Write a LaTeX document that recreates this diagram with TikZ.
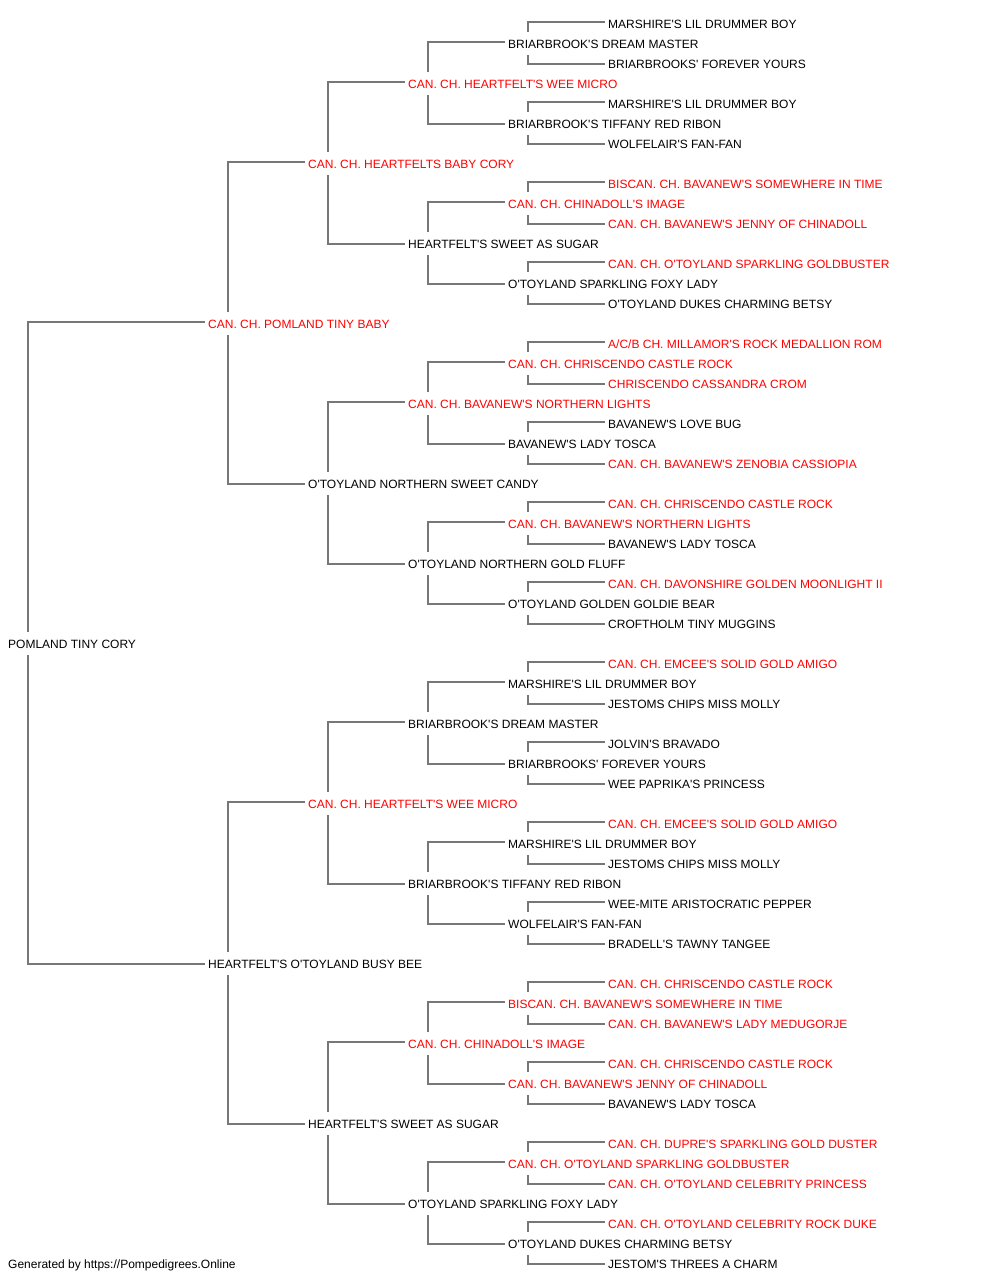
\documentclass[tikz,border=0pt]{standalone}
\usepackage{fontspec}
\setmainfont{Liberation Sans}[Ligatures=TeXOff]
\definecolor{linegray}{RGB}{119,119,119}
\definecolor{namered}{RGB}{255,0,0}
\begin{document}
\begin{tikzpicture}[x=1pt,y=1pt,
  dog/.style={anchor=west, inner xsep=3pt, inner ysep=0pt, minimum height=22pt,
    text height=9pt, text depth=0pt, font=\fontsize{12pt}{14pt}\selectfont, text=black},
  champ/.style={dog, text=namered},
  conn/.style={draw=linegray, line width=1.5pt}]
\useasboundingbox (0,0) rectangle (1000,-1280);
% root
\node[dog] (n31) at (5,-23.5-20*31) {POMLAND TINY CORY};
% level 1
\node[champ] (n15) at (205,-23.5-20*15) {CAN. CH. POMLAND TINY BABY};
\node[dog] (n47) at (205,-23.5-20*47) {HEARTFELT'S O'TOYLAND BUSY BEE};
% level 2
\node[champ] (n7) at (305,-23.5-20*7) {CAN. CH. HEARTFELTS BABY CORY};
\node[dog] (n23) at (305,-23.5-20*23) {O'TOYLAND NORTHERN SWEET CANDY};
\node[champ] (n39) at (305,-23.5-20*39) {CAN. CH. HEARTFELT'S WEE MICRO};
\node[dog] (n55) at (305,-23.5-20*55) {HEARTFELT'S SWEET AS SUGAR};
% level 3
\node[champ] (n3) at (405,-23.5-20*3) {CAN. CH. HEARTFELT'S WEE MICRO};
\node[dog] (n11) at (405,-23.5-20*11) {HEARTFELT'S SWEET AS SUGAR};
\node[champ] (n19) at (405,-23.5-20*19) {CAN. CH. BAVANEW'S NORTHERN LIGHTS};
\node[dog] (n27) at (405,-23.5-20*27) {O'TOYLAND NORTHERN GOLD FLUFF};
\node[dog] (n35) at (405,-23.5-20*35) {BRIARBROOK'S DREAM MASTER};
\node[dog] (n43) at (405,-23.5-20*43) {BRIARBROOK'S TIFFANY RED RIBON};
\node[champ] (n51) at (405,-23.5-20*51) {CAN. CH. CHINADOLL'S IMAGE};
\node[dog] (n59) at (405,-23.5-20*59) {O'TOYLAND SPARKLING FOXY LADY};
% level 4
\node[dog] (n1) at (505,-23.5-20*1) {BRIARBROOK'S DREAM MASTER};
\node[dog] (n5) at (505,-23.5-20*5) {BRIARBROOK'S TIFFANY RED RIBON};
\node[champ] (n9) at (505,-23.5-20*9) {CAN. CH. CHINADOLL'S IMAGE};
\node[dog] (n13) at (505,-23.5-20*13) {O'TOYLAND SPARKLING FOXY LADY};
\node[champ] (n17) at (505,-23.5-20*17) {CAN. CH. CHRISCENDO CASTLE ROCK};
\node[dog] (n21) at (505,-23.5-20*21) {BAVANEW'S LADY TOSCA};
\node[champ] (n25) at (505,-23.5-20*25) {CAN. CH. BAVANEW'S NORTHERN LIGHTS};
\node[dog] (n29) at (505,-23.5-20*29) {O'TOYLAND GOLDEN GOLDIE BEAR};
\node[dog] (n33) at (505,-23.5-20*33) {MARSHIRE'S LIL DRUMMER BOY};
\node[dog] (n37) at (505,-23.5-20*37) {BRIARBROOKS' FOREVER YOURS};
\node[dog] (n41) at (505,-23.5-20*41) {MARSHIRE'S LIL DRUMMER BOY};
\node[dog] (n45) at (505,-23.5-20*45) {WOLFELAIR'S FAN-FAN};
\node[champ] (n49) at (505,-23.5-20*49) {BISCAN. CH. BAVANEW'S SOMEWHERE IN TIME};
\node[champ] (n53) at (505,-23.5-20*53) {CAN. CH. BAVANEW'S JENNY OF CHINADOLL};
\node[champ] (n57) at (505,-23.5-20*57) {CAN. CH. O'TOYLAND SPARKLING GOLDBUSTER};
\node[dog] (n61) at (505,-23.5-20*61) {O'TOYLAND DUKES CHARMING BETSY};
% level 5
\node[dog] (n0) at (605,-23.5-20*0) {MARSHIRE'S LIL DRUMMER BOY};
\node[dog] (n2) at (605,-23.5-20*2) {BRIARBROOKS' FOREVER YOURS};
\node[dog] (n4) at (605,-23.5-20*4) {MARSHIRE'S LIL DRUMMER BOY};
\node[dog] (n6) at (605,-23.5-20*6) {WOLFELAIR'S FAN-FAN};
\node[champ] (n8) at (605,-23.5-20*8) {BISCAN. CH. BAVANEW'S SOMEWHERE IN TIME};
\node[champ] (n10) at (605,-23.5-20*10) {CAN. CH. BAVANEW'S JENNY OF CHINADOLL};
\node[champ] (n12) at (605,-23.5-20*12) {CAN. CH. O'TOYLAND SPARKLING GOLDBUSTER};
\node[dog] (n14) at (605,-23.5-20*14) {O'TOYLAND DUKES CHARMING BETSY};
\node[champ] (n16) at (605,-23.5-20*16) {A/C/B CH. MILLAMOR'S ROCK MEDALLION ROM};
\node[champ] (n18) at (605,-23.5-20*18) {CHRISCENDO CASSANDRA CROM};
\node[dog] (n20) at (605,-23.5-20*20) {BAVANEW'S LOVE BUG};
\node[champ] (n22) at (605,-23.5-20*22) {CAN. CH. BAVANEW'S ZENOBIA CASSIOPIA};
\node[champ] (n24) at (605,-23.5-20*24) {CAN. CH. CHRISCENDO CASTLE ROCK};
\node[dog] (n26) at (605,-23.5-20*26) {BAVANEW'S LADY TOSCA};
\node[champ] (n28) at (605,-23.5-20*28) {CAN. CH. DAVONSHIRE GOLDEN MOONLIGHT II};
\node[dog] (n30) at (605,-23.5-20*30) {CROFTHOLM TINY MUGGINS};
\node[champ] (n32) at (605,-23.5-20*32) {CAN. CH. EMCEE'S SOLID GOLD AMIGO};
\node[dog] (n34) at (605,-23.5-20*34) {JESTOMS CHIPS MISS MOLLY};
\node[dog] (n36) at (605,-23.5-20*36) {JOLVIN'S BRAVADO};
\node[dog] (n38) at (605,-23.5-20*38) {WEE PAPRIKA'S PRINCESS};
\node[champ] (n40) at (605,-23.5-20*40) {CAN. CH. EMCEE'S SOLID GOLD AMIGO};
\node[dog] (n42) at (605,-23.5-20*42) {JESTOMS CHIPS MISS MOLLY};
\node[dog] (n44) at (605,-23.5-20*44) {WEE-MITE ARISTOCRATIC PEPPER};
\node[dog] (n46) at (605,-23.5-20*46) {BRADELL'S TAWNY TANGEE};
\node[champ] (n48) at (605,-23.5-20*48) {CAN. CH. CHRISCENDO CASTLE ROCK};
\node[champ] (n50) at (605,-23.5-20*50) {CAN. CH. BAVANEW'S LADY MEDUGORJE};
\node[champ] (n52) at (605,-23.5-20*52) {CAN. CH. CHRISCENDO CASTLE ROCK};
\node[dog] (n54) at (605,-23.5-20*54) {BAVANEW'S LADY TOSCA};
\node[champ] (n56) at (605,-23.5-20*56) {CAN. CH. DUPRE'S SPARKLING GOLD DUSTER};
\node[champ] (n58) at (605,-23.5-20*58) {CAN. CH. O'TOYLAND CELEBRITY PRINCESS};
\node[champ] (n60) at (605,-23.5-20*60) {CAN. CH. O'TOYLAND CELEBRITY ROCK DUKE};
\node[dog] (n62) at (605,-23.5-20*62) {JESTOM'S THREES A CHARM};
% footer
\node[dog] (gen) at (5,-23.5-20*62) {Generated by https://Pompedigrees.Online};
% connectors
\foreach \p/\d in {31/16,15/8,47/8,7/4,23/4,39/4,55/4,3/2,11/2,19/2,27/2,35/2,43/2,51/2,59/2,1/1,5/1,9/1,13/1,17/1,21/1,25/1,29/1,33/1,37/1,41/1,45/1,49/1,53/1,57/1,61/1}{
  \pgfmathtruncatemacro\u{\p-\d}
  \pgfmathtruncatemacro\l{\p+\d}
  \draw[conn] ([yshift=1.5pt]n\u.west) -| ([xshift=23pt]n\p.north west);
  \draw[conn] ([yshift=-0.5pt]n\l.west) -| ([xshift=23pt]n\p.south west);
}
\end{tikzpicture}
\end{document}
